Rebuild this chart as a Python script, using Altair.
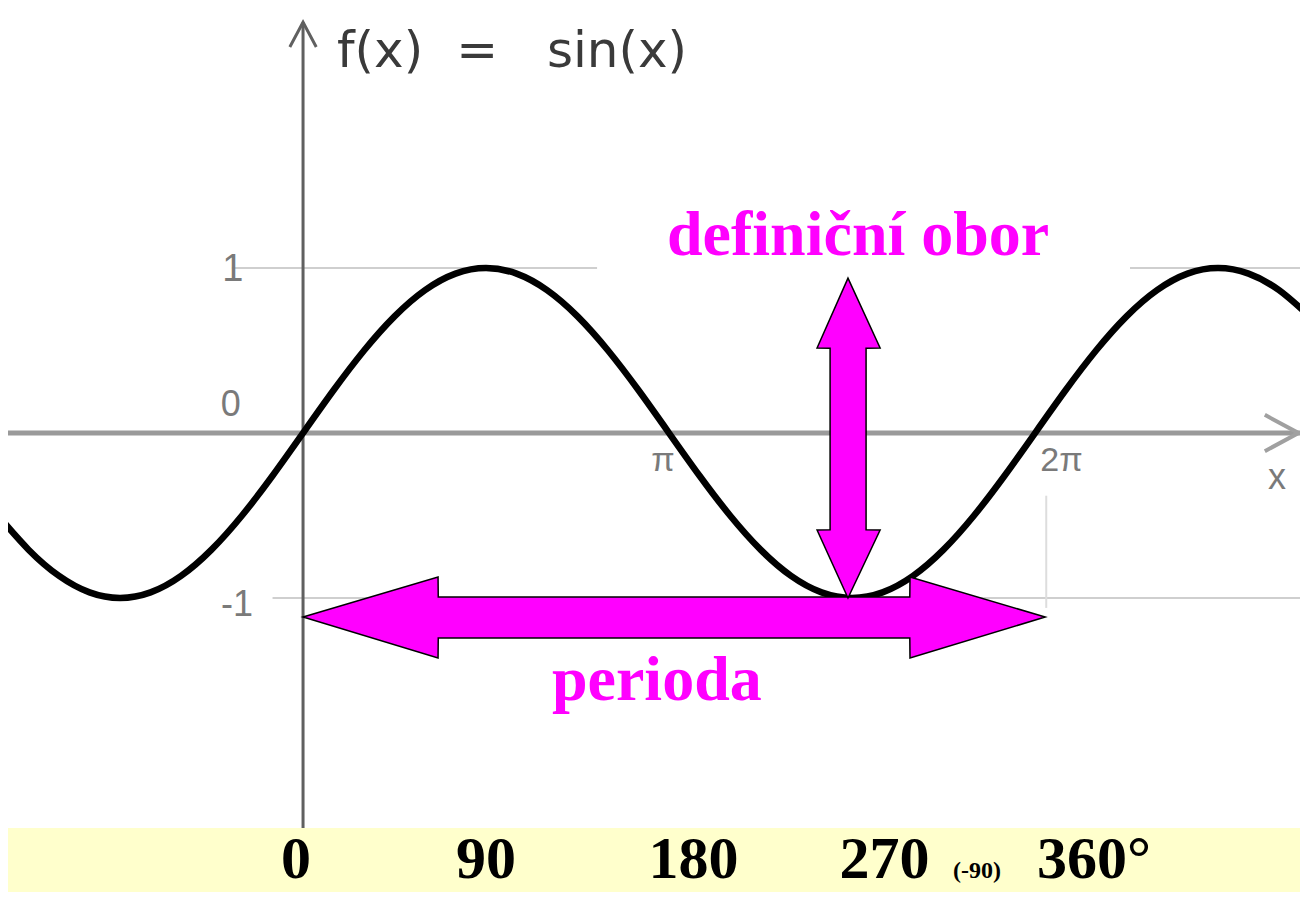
import altair as alt
import pandas as pd

# ---------------- data ----------------
# sine curve samples (x in degrees)
curve_deg = [-150, -135, -120, -105, -90, -75, -60, -45, -30, -15, 0, 15, 30, 45, 60, 75, 90,
             105, 120, 135, 150, 165, 180, 195, 210, 225, 240, 255, 270, 285, 300, 315, 330,
             345, 360, 375, 390, 405, 420, 435, 450, 465, 480, 495]
curve_val = [-0.5, -0.707, -0.866, -0.966, -1.0, -0.966, -0.866, -0.707, -0.5, -0.259, 0.0,
             0.259, 0.5, 0.707, 0.866, 0.966, 1.0, 0.966, 0.866, 0.707, 0.5, 0.259, 0.0,
             -0.259, -0.5, -0.707, -0.866, -0.966, -1.0, -0.966, -0.866, -0.707, -0.5,
             -0.259, 0.0, 0.259, 0.5, 0.707, 0.866, 0.966, 1.0, 0.966, 0.866, 0.707]

# bottom degree labels
deg_labels = ["0", "90", "180", "270", "360°"]
deg_label_x = [-3.5, 90.0, 192.0, 286.0, 389.0]
small_label = ["(-90)"]
small_label_x = [331.5]

# graph labels (gray, from the original screenshot)
gray_text = ["1", "0", "-1", "π", "2π", "x"]
gray_text_x = [-34.5, -35.5, -32.5, 177.0, 373.0, 479.0]
gray_text_y = [0.99, 0.17, -1.04, -0.17, -0.17, -0.27]

# function title, in three parts
title_parts = ["f(x)", "=", "sin(x)"]
title_x = [37.9, 85.6, 154.4]

# magenta annotations
anno_text = ["definiční obor", "perioda"]
anno_x = [273.0, 174.0]
anno_y = [1.08, -1.62]

# horizontal double arrow ("perioda"), x in degrees
harrow_x = [0.0, 66.4, 66.5, 298.4, 298.5, 365.0]
harrow_lo = [-1.115, -1.364, -1.242, -1.242, -1.364, -1.115]
harrow_hi = [-1.115, -0.873, -0.994, -0.994, -0.873, -1.115]

# vertical double arrow ("definiční obor")
varrow_y = [-1.0, -0.588, -0.587, 0.514, 0.515, 0.939]
varrow_lo = [268.0, 252.8, 259.2, 259.2, 252.8, 268.0]
varrow_hi = [268.0, 283.8, 276.9, 276.9, 283.8, 268.0]

# ---------------- scales ----------------
XD = [-145.1, 490.3]
YD = [-2.394, 2.576]
xs = alt.Scale(domain=XD, nice=False, zero=False)
ys = alt.Scale(domain=YD, nice=False, zero=False)


def X(f, **k):
    return alt.X(f, type="quantitative", scale=xs, axis=None, **k)


def Y(f, **k):
    return alt.Y(f, type="quantitative", scale=ys, axis=None, **k)


curve_df = pd.DataFrame({"x": curve_deg, "y": curve_val})

# light grid lines at 1 and -1
grid_df = pd.DataFrame({"x": [-35.0, -15.0], "x2": [490.3, 490.3], "y": [1.0, -1.0]})
grid = alt.Chart(grid_df).mark_rule(color="#cfcfcf", strokeWidth=2).encode(
    x=X("x"), x2="x2", y=Y("y"))

edge_df = pd.DataFrame({"x": [365.5], "y": [-0.38], "y2": [-1.06]})
edge = alt.Chart(edge_df).mark_rule(color="#dddddd", strokeWidth=2).encode(
    x=X("x"), y=Y("y"), y2="y2")

box_df = pd.DataFrame({"x": [144.6], "x2": [406.7], "y": [1.5], "y2": [0.92]})
box = alt.Chart(box_df).mark_rect(color="white").encode(
    x=X("x"), x2="x2", y=Y("y"), y2="y2")

# axes
xaxis_df = pd.DataFrame({"x": [XD[0]], "x2": [490.3], "y": [0.0]})
xaxis = alt.Chart(xaxis_df).mark_rule(color="#9a9a9a", strokeWidth=5).encode(
    x=X("x"), x2="x2", y=Y("y"))
yaxis_df = pd.DataFrame({"x": [0.0], "y": [2.49], "y2": [YD[0]]})
yaxis = alt.Chart(yaxis_df).mark_rule(color="#606060", strokeWidth=3).encode(
    x=X("x"), y=Y("y"), y2="y2")

yarrow_df = pd.DataFrame({"x": [-6.5, 0.0, 6.5], "y": [2.34, 2.49, 2.34], "o": [0, 1, 2]})
yarrow = alt.Chart(yarrow_df).mark_line(color="#606060", strokeWidth=3).encode(
    x=X("x"), y=Y("y"), order="o")
xarrow_df = pd.DataFrame({"x": [473.0, 489.5, 473.0], "y": [0.11, 0.0, -0.11], "o": [0, 1, 2]})
xarrow = alt.Chart(xarrow_df).mark_line(color="#a0a0a0", strokeWidth=4).encode(
    x=X("x"), y=Y("y"), order="o")

curve = alt.Chart(curve_df).mark_line(color="black", strokeWidth=6.5, interpolate="natural",
                                       clip=True).encode(x=X("x"), y=Y("y"))

harrow_df = pd.DataFrame({"x": harrow_x, "lo": harrow_lo, "hi": harrow_hi})
harrow = alt.Chart(harrow_df).mark_area(color="#FF00FF", stroke="black", strokeWidth=1.5,
                                        orient="vertical").encode(
    x=X("x"), y=Y("hi", stack=None), y2="lo")

varrow_df = pd.DataFrame({"y": varrow_y, "lo": varrow_lo, "hi": varrow_hi})
varrow = alt.Chart(varrow_df).mark_area(color="#FF00FF", stroke="black", strokeWidth=1.5,
                                        orient="horizontal").encode(
    y=Y("y"), x=X("lo", stack=None), x2="hi")

gray_df = pd.DataFrame({"t": gray_text, "x": gray_text_x, "y": gray_text_y,
                        "s": [38, 36, 36, 34, 34, 36]})
gray = alt.Chart(gray_df).mark_text(font="Liberation Sans", color="#7a7a7a",
                                    baseline="middle", align="center").encode(
    x=X("x"), y=Y("y"), text="t", size=alt.Size("s", scale=None, legend=None))

title_df = pd.DataFrame({"t": title_parts, "x": title_x, "y": [2.31] * len(title_parts)})
title = alt.Chart(title_df).mark_text(font="DejaVu Sans", color="#3a3a3a", fontSize=50,
                                      baseline="middle", align="center").encode(
    x=X("x"), y=Y("y"), text="t")

anno_df = pd.DataFrame({"t": anno_text, "x": anno_x, "y": anno_y})
anno = alt.Chart(anno_df).mark_text(font="Liberation Serif", fontWeight="bold", color="#FF00FF",
                                    fontSize=64, baseline="alphabetic", align="center").encode(
    x=X("x"), y=Y("y"), text="t")

deg_df = pd.DataFrame({"t": deg_labels, "x": deg_label_x, "y": [-2.70] * len(deg_labels)})
deg = alt.Chart(deg_df).mark_text(font="Liberation Serif", fontWeight="bold", color="black",
                                  fontSize=60, baseline="alphabetic", align="center").encode(
    x=X("x"), y=Y("y"), text="t")
small_df = pd.DataFrame({"t": small_label, "x": small_label_x, "y": [-2.70]})
small = alt.Chart(small_df).mark_text(font="Liberation Serif", fontWeight="bold", color="black",
                                      fontSize=24, baseline="alphabetic", align="center").encode(
    x=X("x"), y=Y("y"), text="t")

chart = alt.layer(grid, edge, box, xaxis, yaxis, yarrow, xarrow, curve, harrow, varrow,
                  gray, title, anno, deg, small).properties(
    width=1292, height=820,
    autosize=alt.AutoSizeParams(type="none"),
    padding={"left": 0, "top": 0, "right": 0, "bottom": 64},
    background="#FFFFCC",
).configure_view(fill="white", stroke=None)

chart.save("out.html", embed_options={"renderer": "svg", "actions": False})
